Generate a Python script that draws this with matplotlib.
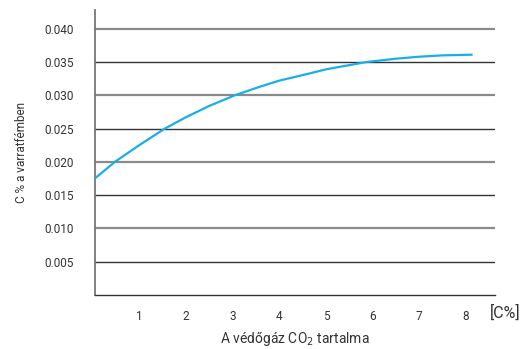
import matplotlib.pyplot as plt

# values
co2 = [0.05, 0.48, 1.0, 1.55, 2.0, 2.5, 3.05, 3.59, 4.0, 4.66, 5.0, 5.87, 6.5, 7.0, 7.5, 8.12]
carbon = [0.0175, 0.0200, 0.0225, 0.0250, 0.0267, 0.0284, 0.0300, 0.0313, 0.0322, 0.0333,
          0.0339, 0.0350, 0.0355, 0.0358, 0.0360, 0.0361]
x_ticks = [1, 2, 3, 4, 5, 6, 7, 8]
y_ticks = [0.005, 0.010, 0.015, 0.020, 0.025, 0.030, 0.035, 0.040]

plt.rcParams["font.family"] = ["Roboto", "DejaVu Sans"]
text_color = "#333333"

fig = plt.figure(figsize=(5.27, 3.49), dpi=100)
ax = fig.add_axes([0.180, 0.155, 0.759, 0.816])

for i, yv in enumerate(y_ticks):
    if i % 2 == 1:
        ax.axhline(yv, color="#8a8a8a", lw=1.6, zorder=1)
    else:
        ax.axhline(yv, color="#333333", lw=1.0, zorder=1)

ax.plot(co2, carbon, color="#1aaee8", lw=1.6, zorder=3, solid_joinstyle="round")

ax.set_xlim(0.05, 8.62)
ax.set_ylim(0, 0.0428)
ax.set_xticks(x_ticks)
ax.set_xticklabels([str(v) for v in x_ticks])
ax.set_yticks(y_ticks)
ax.set_yticklabels([f"{v:.3f}" for v in y_ticks])
ax.tick_params(length=0, labelsize=8.5, colors=text_color)
ax.tick_params(axis="x", pad=11)
ax.tick_params(axis="y", pad=15)

for side in ["top", "right"]:
    ax.spines[side].set_visible(False)
ax.spines["left"].set_color("#777777")
ax.spines["left"].set_linewidth(1.3)
ax.spines["bottom"].set_color("#333333")
ax.spines["bottom"].set_linewidth(1.0)

ax.set_xlabel("A védőgáz CO$_2$ tartalma", fontsize=10, color=text_color, labelpad=5)
ax.set_ylabel("C % a varratfémben", fontsize=8.5, color=text_color, labelpad=12)
ax.text(0.988, 0.105, "[C%]", transform=fig.transFigure, fontsize=11.5, color=text_color,
        ha="right", va="center")

fig.savefig("out.png", dpi=100)
